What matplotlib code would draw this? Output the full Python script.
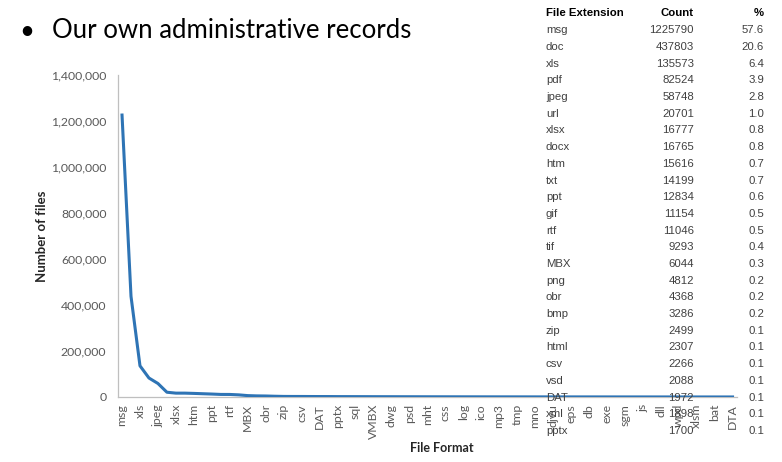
import matplotlib.pyplot as plt
from matplotlib.ticker import FuncFormatter

# --- 数据: 按文件扩展名统计的文件数 ---
table_ext = ['msg', 'doc', 'xls', 'pdf', 'jpeg', 'url', 'xlsx', 'docx', 'htm', 'txt',
             'ppt', 'gif', 'rtf', 'tif', 'MBX', 'png', 'obr', 'bmp', 'zip', 'html',
             'csv', 'vsd', 'DAT', 'xml', 'pptx']
table_count = [1225790, 437803, 135573, 82524, 58748, 20701, 16777, 16765, 15616, 14199,
               12834, 11154, 11046, 9293, 6044, 4812, 4368, 3286, 2499, 2307,
               2266, 2088, 1972, 1898, 1700]
table_pct = [57.6, 20.6, 6.4, 3.9, 2.8, 1.0, 0.8, 0.8, 0.7, 0.7,
             0.6, 0.5, 0.5, 0.4, 0.3, 0.2, 0.2, 0.2, 0.1, 0.1,
             0.1, 0.1, 0.1, 0.1, 0.1]

# 表格之外的长尾格式 (数量很小)
tail_ext = ['mdb', 'sql', 'pst', 'VMBX', 'wav', 'dwg', 'mpp', 'psd', 'ini', 'mht',
            'avi', 'css', 'xps', 'log', 'rar', 'ico', 'wmv', 'mp3', 'dot', 'tmp',
            'pub', 'mno', 'mov', 'djvu', 'odt', 'eps', 'lnk', 'db', 'xlt', 'exe',
            'ps', 'sgm', 'cab', 'js', 'chm', 'dll', 'xsl', 'wpd', 'bak', 'xlsm',
            'docm', 'bat', 'one', 'DTA']
tail_count = [1650, 1580, 1490, 1400, 1330, 1250, 1180, 1120, 1050, 990,
              930, 880, 830, 780, 740, 700, 660, 620, 590, 560,
              530, 500, 470, 450, 420, 400, 380, 360, 340, 320,
              300, 280, 265, 250, 235, 220, 205, 190, 175, 160,
              150, 140, 130, 120]

formats = table_ext + tail_ext
counts = table_count + tail_count

GRAY = '#595959'
BLUE = '#2E74B5'
plt.rcParams['font.family'] = ['Lato', 'DejaVu Sans']

fig = plt.figure(figsize=(7.82, 4.62), dpi=100)
ax = fig.add_axes([0.1503, 0.1407, 0.7922, 0.697])

x = range(len(formats))
ax.plot(x, counts, color=BLUE, linewidth=2.2, solid_joinstyle='round', zorder=3)

ax.set_xlim(-0.5, len(formats) - 0.5)
ax.set_ylim(0, 1400000)
ax.set_yticks(range(0, 1400001, 200000))
ax.yaxis.set_major_formatter(FuncFormatter(lambda v, p: f'{int(v):,}'))
ax.set_xticks(list(x)[::2])
ax.set_xticklabels(formats[::2], rotation=90)
ax.tick_params(axis='both', length=0, colors=GRAY, labelsize=8.8)
ax.tick_params(axis='y', pad=8)
ax.tick_params(axis='x', pad=5)

for side in ['top', 'right']:
    ax.spines[side].set_visible(False)
for side in ['left', 'bottom']:
    ax.spines[side].set_color('#BFBFBF')
    ax.spines[side].set_linewidth(0.9)

ax.set_ylabel('Number of files', fontsize=9.5, fontweight='bold', color='#262626', labelpad=2)
fig.text(442 / 782, 1 - 448 / 462, 'File Format', fontsize=9, fontweight='bold',
         color='#262626', ha='center', va='center')

# 标题 (幻灯片要点)
fig.text(27 / 782, 1 - 31 / 462, '•', fontsize=18.5, ha='center', va='center', color='black')
fig.text(52 / 782, 1 - 30 / 462, 'Our own administrative records', fontsize=18.5,
         ha='left', va='center', color='black')

# 右侧统计表
tfont = ['Liberation Sans', 'DejaVu Sans']
tsize = 8.2
row_y0, row_h = 13.5, 16.7
fig.text(546 / 782, 1 - row_y0 / 462, 'File Extension', family=tfont, fontsize=tsize,
         fontweight='bold', ha='left', va='center')
fig.text(694 / 782, 1 - row_y0 / 462, 'Count', family=tfont, fontsize=tsize,
         fontweight='bold', ha='right', va='center')
fig.text(764 / 782, 1 - row_y0 / 462, '%', family=tfont, fontsize=tsize,
         fontweight='bold', ha='right', va='center')
for i, (ext, cnt, pct) in enumerate(zip(table_ext, table_count, table_pct)):
    y = 1 - (row_y0 + (i + 1) * row_h) / 462
    fig.text(546 / 782, y, ext, family=tfont, fontsize=tsize, color='#404040', ha='left', va='center')
    fig.text(694 / 782, y, str(cnt), family=tfont, fontsize=tsize, color='#404040', ha='right', va='center')
    fig.text(764 / 782, y, f'{pct:.1f}', family=tfont, fontsize=tsize, color='#404040', ha='right', va='center')

fig.savefig('out.png', dpi=100)
